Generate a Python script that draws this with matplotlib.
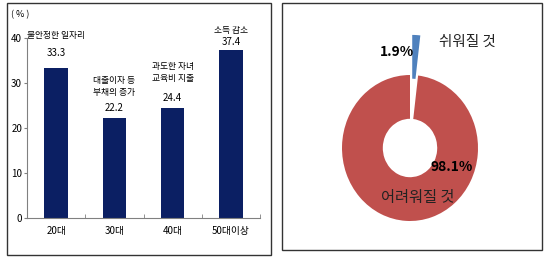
import matplotlib.pyplot as plt
import numpy as np
from matplotlib.patches import Rectangle

plt.rcParams['font.family'] = ['Noto Sans CJK KR', 'DejaVu Sans']

# left panel: bar chart
age_groups = ['20대', '30대', '40대', '50대이상']
shares = [33.3, 22.2, 24.4, 37.4]
reasons = ['불안정한 일자리', '대출이자 등\n부채의 증가', '과도한 자녀\n교육비 지출', '소득 감소']
y_ticks = [0, 10, 20, 30, 40]

# right panel: donut
outlook_labels = ['쉬워질 것', '어려워질 것']
outlook_values = [1.9, 98.1]

# label offsets above bar tops (points), as in the original layout
value_offsets = [7, 4, 3.5, 2]
note_offsets = [20, 15.5, 18, 10.5]

W, H = 550, 264
fig = plt.figure(figsize=(W / 100, H / 100), dpi=100)


def px_box(x0, y0, x1, y1):
    # pixel box (top-left origin) -> figure fraction [l, b, w, h]
    return [x0 / W, 1 - y1 / H, (x1 - x0) / W, (y1 - y0) / H]


# panel frames
for x0, y0, x1, y1 in [(7, 3, 271, 255), (282, 3, 542, 250)]:
    l, b, w, h = px_box(x0, y0, x1, y1)
    fig.add_artist(Rectangle((l, b), w, h, transform=fig.transFigure,
                             fill=False, edgecolor='#333333', linewidth=1.0))

bar_color = '#0b1f63'
axis_color = '#808080'

ax = fig.add_axes(px_box(27, 38, 260, 218))
x = np.arange(len(age_groups))
ax.bar(x, shares, width=0.4, color=bar_color)
ax.set_xlim(-0.5, len(age_groups) - 0.5)
ax.set_ylim(0, 40)
ax.set_yticks(y_ticks)
ax.set_xticks(x)
ax.set_xticklabels(age_groups)
ax.set_xticks(np.arange(len(age_groups) + 1) - 0.5, minor=True)
ax.tick_params(axis='x', which='major', length=0, pad=6, labelsize=7)
ax.tick_params(axis='x', which='minor', direction='in', length=3, color=axis_color)
ax.tick_params(axis='y', direction='out', length=2, pad=1.5, labelsize=7, color=axis_color)
for side in ['top', 'right']:
    ax.spines[side].set_visible(False)
for side in ['left', 'bottom']:
    ax.spines[side].set_color(axis_color)
    ax.spines[side].set_linewidth(0.8)

for xi, val, note, vo, no in zip(x, shares, reasons, value_offsets, note_offsets):
    ax.annotate(f'{val:.1f}', (xi, val), xytext=(0, vo), textcoords='offset points',
                ha='center', va='bottom', fontsize=7, annotation_clip=False)
    ax.annotate(note, (xi, val), xytext=(0, no), textcoords='offset points',
                ha='center', va='bottom', fontsize=6.3, linespacing=1.4,
                annotation_clip=False)

fig.text(20 / W, 1 - 15 / H, '( % )', fontsize=6.5, ha='center', va='center')

# donut (drawn slightly taller than wide, like the source image)
RX, RY = 68, 73
cx, cy = 410, 148
ax2 = fig.add_axes(px_box(cx - 110, cy - 110, cx + 110, cy + 110))
ax2.axis('off')
ax2.pie(outlook_values, colors=['#4f81bd', '#c0504d'], startangle=90,
        counterclock=False, explode=[0.55, 0], radius=1,
        wedgeprops=dict(width=0.6, edgecolor='none'))
ax2.set_aspect('auto')
ax2.set_xlim(-110 / RX, 110 / RX)
ax2.set_ylim(-110 / RY, 110 / RY)

ax2.text(-0.19, 1.31, f'{outlook_values[0]}%', fontsize=10, fontweight='bold',
         ha='center', va='center')
ax2.text(0.84, 1.45, outlook_labels[0], fontsize=10.5, ha='center', va='center',
         color='#222222')
ax2.text(0.62, -0.26, f'{outlook_values[1]}%', fontsize=10, fontweight='bold',
         ha='center', va='center')
ax2.text(0.11, -0.68, outlook_labels[1], fontsize=11, ha='center', va='center',
         color='#222222')

fig.savefig('out.png', dpi=100)
